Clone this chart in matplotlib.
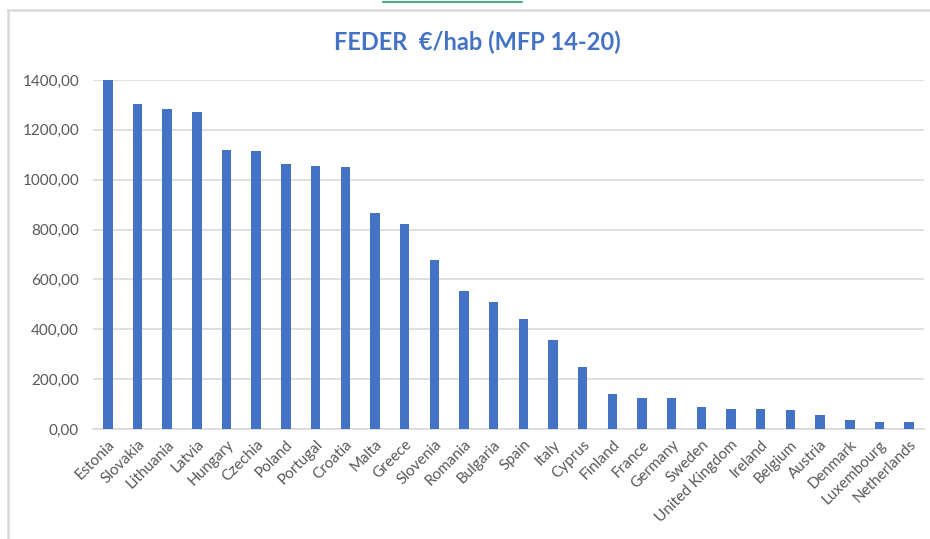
import matplotlib
matplotlib.use("Agg")
import matplotlib.pyplot as plt
from matplotlib.lines import Line2D
from matplotlib.ticker import FuncFormatter

# values (EUR per inhabitant)
countries = ["Estonia", "Slovakia", "Lithuania", "Latvia", "Hungary", "Czechia",
             "Poland", "Portugal", "Croatia", "Malta", "Greece", "Slovenia",
             "Romania", "Bulgaria", "Spain", "Italy", "Cyprus", "Finland",
             "France", "Germany", "Sweden", "United Kingdom", "Ireland",
             "Belgium", "Austria", "Denmark", "Luxembourg", "Netherlands"]
values = [1398, 1303, 1284, 1270, 1118, 1114, 1062, 1055, 1051, 868, 821, 679,
          555, 511, 441, 356, 247, 140, 126, 126, 90, 82, 82, 78, 58, 35, 27, 27]

plt.rcParams['font.family'] = ['Lato', 'DejaVu Sans']

bar_color = '#4472C4'
text_color = '#595959'
grid_color = '#D9D9D9'

fig = plt.figure(figsize=(9.3, 5.39), dpi=100)
ax = fig.add_axes([0.1, 0.204, 0.8935, 0.6476])

x = range(len(countries))
ax.bar(x, values, width=0.32, color=bar_color, zorder=3)

ax.set_xlim(-0.5, len(countries) - 0.5)
ax.set_ylim(0, 1400)
ax.set_yticks(range(0, 1401, 200))
ax.yaxis.set_major_formatter(FuncFormatter(lambda v, p: f"{v:.2f}".replace('.', ',')))
ax.grid(axis='y', color=grid_color, linewidth=1.2, zorder=0)

ax.set_xticks(list(x))
ax.set_xticklabels(countries, rotation=45, ha='right', rotation_mode='anchor')
ax.tick_params(axis='both', length=0, labelsize=11, labelcolor=text_color)
ax.tick_params(axis='x', pad=6)
ax.tick_params(axis='y', pad=10)

for side in ['top', 'right', 'left']:
    ax.spines[side].set_visible(False)
ax.spines['bottom'].set_color(grid_color)
ax.spines['bottom'].set_linewidth(1.2)

fig.text(0.513, 0.922, "FEDER  €/hab (MFP 14-20)", ha='center', va='center',
         fontsize=17, fontweight='bold', color=bar_color)

# chart frame and the stray line above it
W, H = 930, 539
fig.add_artist(Line2D([8 / W, 8 / W], [0, 1 - 10 / H], color=grid_color, linewidth=1.8))
fig.add_artist(Line2D([8 / W, 1], [1 - 10 / H, 1 - 10 / H], color=grid_color, linewidth=1.8))
fig.add_artist(Line2D([383 / W, 522 / W], [1 - 1.5 / H, 1 - 1.5 / H], color='#21A366', linewidth=1.2))

fig.savefig("out.png", dpi=100)
